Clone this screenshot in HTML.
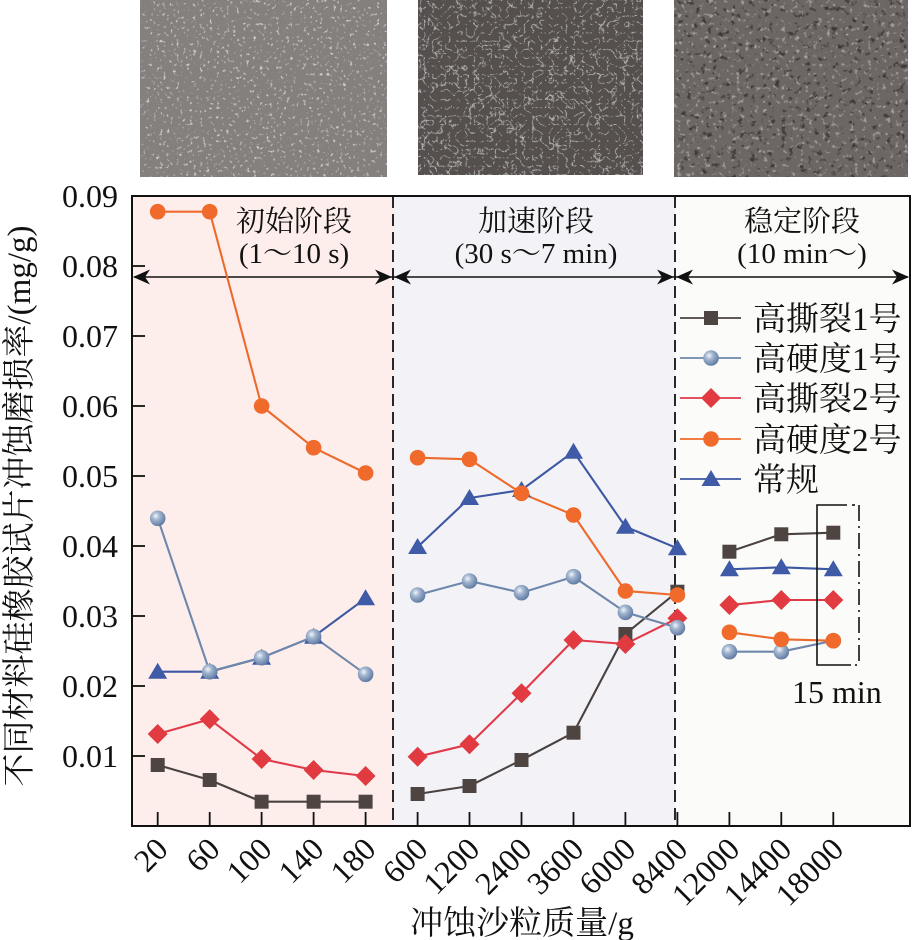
<!DOCTYPE html>
<html>
<head>
<meta charset="utf-8">
<style>
html,body{margin:0;padding:0;background:#fff;}
svg{display:block;}
</style>
</head>
<body>
<svg width="912" height="940" viewBox="0 0 912 940" xmlns="http://www.w3.org/2000/svg" font-family="'Liberation Serif','Noto Serif CJK SC',serif">
<defs>
  <radialGradient id="sg" cx="0.38" cy="0.35" r="0.7">
    <stop offset="0" stop-color="#f2f5fa"/>
    <stop offset="0.35" stop-color="#a3b6d0"/>
    <stop offset="1" stop-color="#5a759e"/>
  </radialGradient>
  <filter id="f1" x="0" y="0" width="1" height="1" color-interpolation-filters="sRGB">
    <feTurbulence type="fractalNoise" baseFrequency="0.3" numOctaves="2" seed="4"/>
    <feColorMatrix type="matrix" values="0 0 0 0 1  0 0 0 0 1  0 0 0 0 1  6 0 0 0 -3.7"/>
  </filter>
  <filter id="f2" x="0" y="0" width="1" height="1" color-interpolation-filters="sRGB">
    <feTurbulence type="turbulence" baseFrequency="0.12" numOctaves="3" seed="7"/>
    <feColorMatrix type="matrix" values="0 0 0 0 1  0 0 0 0 1  0 0 0 0 1  -5 0 0 0 0.9"/>
  </filter>
  <filter id="f3a" x="0" y="0" width="1" height="1" color-interpolation-filters="sRGB">
    <feTurbulence type="fractalNoise" baseFrequency="0.16" numOctaves="3" seed="11"/>
    <feColorMatrix type="matrix" values="0 0 0 0 0.2  0 0 0 0 0.18  0 0 0 0 0.17  -6 0 0 0 2.35"/>
  </filter>
  <filter id="f3b" x="0" y="0" width="1" height="1" color-interpolation-filters="sRGB">
    <feTurbulence type="fractalNoise" baseFrequency="0.22" numOctaves="2" seed="23"/>
    <feColorMatrix type="matrix" values="0 0 0 0 0.85  0 0 0 0 0.83  0 0 0 0 0.82  6 0 0 0 -3.7"/>
  </filter>
  <g id="sq"><rect x="-7" y="-7" width="14" height="14" fill="#4e4542"/></g>
  <g id="sp"><circle r="7.8" fill="url(#sg)"/></g>
  <g id="di"><path d="M0,-10 L10,0 L0,10 L-10,0Z" fill="#e13a41"/></g>
  <g id="oc"><circle r="7.8" fill="#ef6a2b"/></g>
  <g id="tr"><path d="M0,-9 L9.5,7 L-9.5,7Z" fill="#3f5aa6"/></g>
  <path id="ah" d="M0,0 L17,-7.5 L12,0 L17,7.5Z" fill="#111"/>
</defs>

<!-- SEM photos -->
<rect x="140" y="0" width="247" height="177" fill="#84807e"/>
<rect x="140" y="0" width="247" height="177" filter="url(#f1)" opacity="0.6"/>
<rect x="418" y="0" width="225" height="175" fill="#55504e"/>
<rect x="418" y="0" width="225" height="175" filter="url(#f2)" opacity="0.85"/>
<rect x="674" y="0" width="234" height="177" fill="#6c6664"/>
<rect x="674" y="0" width="234" height="177" filter="url(#f3a)" opacity="0.8"/>
<rect x="674" y="0" width="234" height="177" filter="url(#f3b)" opacity="0.5"/>

<!-- plot backgrounds -->
<rect x="132" y="196" width="261" height="630" fill="#fdeeec"/>
<rect x="393" y="196" width="282" height="630" fill="#f3f3f7"/>
<rect x="675" y="196" width="235" height="630" fill="#fbfbf9"/>

<!-- dashed separators -->
<line x1="393" y1="196" x2="393" y2="826" stroke="#111" stroke-width="1.8" stroke-dasharray="12,6"/>
<line x1="675" y1="196" x2="675" y2="826" stroke="#111" stroke-width="1.8" stroke-dasharray="12,6"/>

<!-- frame -->
<rect x="132" y="196" width="778" height="630" fill="none" stroke="#111" stroke-width="2"/>

<!-- y ticks -->
<g stroke="#111" stroke-width="1.8">
  <line x1="132" y1="266" x2="145" y2="266"/>
  <line x1="132" y1="336" x2="145" y2="336"/>
  <line x1="132" y1="406" x2="145" y2="406"/>
  <line x1="132" y1="476" x2="145" y2="476"/>
  <line x1="132" y1="546" x2="145" y2="546"/>
  <line x1="132" y1="616" x2="145" y2="616"/>
  <line x1="132" y1="686" x2="145" y2="686"/>
  <line x1="132" y1="756" x2="145" y2="756"/>
</g>
<!-- x ticks -->
<g stroke="#111" stroke-width="1.8">
  <line x1="157.7" y1="826" x2="157.7" y2="812"/>
  <line x1="209.7" y1="826" x2="209.7" y2="812"/>
  <line x1="261.6" y1="826" x2="261.6" y2="812"/>
  <line x1="313.6" y1="826" x2="313.6" y2="812"/>
  <line x1="365.6" y1="826" x2="365.6" y2="812"/>
  <line x1="417.6" y1="826" x2="417.6" y2="812"/>
  <line x1="469.5" y1="826" x2="469.5" y2="812"/>
  <line x1="521.5" y1="826" x2="521.5" y2="812"/>
  <line x1="573.5" y1="826" x2="573.5" y2="812"/>
  <line x1="625.4" y1="826" x2="625.4" y2="812"/>
  <line x1="677.4" y1="826" x2="677.4" y2="812"/>
  <line x1="729.4" y1="826" x2="729.4" y2="812"/>
  <line x1="781.3" y1="826" x2="781.3" y2="812"/>
  <line x1="833.3" y1="826" x2="833.3" y2="812"/>
</g>

<!-- y tick labels -->
<g font-size="32" fill="#111" text-anchor="end">
  <text x="118" y="207">0.09</text>
  <text x="118" y="277">0.08</text>
  <text x="118" y="347">0.07</text>
  <text x="118" y="417">0.06</text>
  <text x="118" y="487">0.05</text>
  <text x="118" y="557">0.04</text>
  <text x="118" y="627">0.03</text>
  <text x="118" y="697">0.02</text>
  <text x="118" y="767">0.01</text>
</g>

<!-- x tick labels -->
<g font-size="32" fill="#111" text-anchor="end">
  <text transform="translate(169.7,851) rotate(-45)">20</text>
  <text transform="translate(221.7,851) rotate(-45)">60</text>
  <text transform="translate(273.6,851) rotate(-45)">100</text>
  <text transform="translate(325.6,851) rotate(-45)">140</text>
  <text transform="translate(377.6,851) rotate(-45)">180</text>
  <text transform="translate(429.6,851) rotate(-45)">600</text>
  <text transform="translate(481.5,851) rotate(-45)">1200</text>
  <text transform="translate(533.5,851) rotate(-45)">2400</text>
  <text transform="translate(585.5,851) rotate(-45)">3600</text>
  <text transform="translate(637.4,851) rotate(-45)">6000</text>
  <text transform="translate(689.4,851) rotate(-45)">8400</text>
  <text transform="translate(741.4,851) rotate(-45)">12000</text>
  <text transform="translate(793.3,851) rotate(-45)">14400</text>
  <text transform="translate(845.3,851) rotate(-45)">18000</text>
</g>

<!-- axis labels -->
<text x="522" y="934" font-size="33" fill="#111" text-anchor="middle">冲蚀沙粒质量/g</text>
<text transform="translate(30,506) rotate(-90)" font-size="33" fill="#111" text-anchor="middle">不同材料硅橡胶试片冲蚀磨损率/(mg/g)</text>

<!-- stage arrows -->
<line x1="134" y1="277" x2="908" y2="277" stroke="#111" stroke-width="1.6"/>
<use href="#ah" transform="translate(133,277)"/>
<use href="#ah" transform="translate(392,277) scale(-1,1)"/>
<use href="#ah" transform="translate(394,277)"/>
<use href="#ah" transform="translate(674,277) scale(-1,1)"/>
<use href="#ah" transform="translate(676,277)"/>
<use href="#ah" transform="translate(909,277) scale(-1,1)"/>

<!-- stage labels -->
<g font-size="29" fill="#111" text-anchor="middle">
  <text x="294" y="231">初始阶段</text>
  <text x="294" y="263">(1～10 s)</text>
  <text x="536" y="231">加速阶段</text>
  <text x="536" y="263">(30 s～7 min)</text>
  <text x="802" y="231">稳定阶段</text>
  <text x="802" y="263">(10 min～)</text>
</g>

<!-- series lines -->
<g fill="none" stroke-width="2.1" stroke-linejoin="round">
  <g stroke="#3d57a3">
    <polyline points="157.7,671.7 209.7,671.7 261.6,657.7 313.6,636.7 365.6,598.3"/>
    <polyline points="417.6,547 469.5,498 521.5,490 573.5,451.7 625.4,526.7 677.4,548.3"/>
    <polyline points="729.4,569.3 781.3,567.3 833.3,569.3"/>
  </g>
  <g stroke="#4a4240">
    <polyline points="157.7,765 209.7,780 261.6,801.7 313.6,801.7 365.6,801.7"/>
    <polyline points="417.6,794 469.5,786 521.5,760 573.5,732.7 625.4,634 677.4,591.7"/>
    <polyline points="729.4,551.7 781.3,534.3 833.3,532.7"/>
  </g>
  <g stroke="#e0394a">
    <polyline points="157.7,734 209.7,719.3 261.6,759 313.6,770 365.6,776"/>
    <polyline points="417.6,756.7 469.5,744.3 521.5,693.3 573.5,640 625.4,644 677.4,618.3"/>
    <polyline points="729.4,605 781.3,600 833.3,600"/>
  </g>
  <g stroke="#6e87ab">
    <polyline points="157.7,518.3 209.7,671.7 261.6,657.7 313.6,636.7 365.6,674.3"/>
    <polyline points="417.6,595 469.5,581 521.5,592.7 573.5,576.7 625.4,612.3 677.4,627.7"/>
    <polyline points="729.4,651.7 781.3,651.7 833.3,640.7"/>
  </g>
  <g stroke="#ee6a2c">
    <polyline points="157.7,211.7 209.7,211.7 261.6,406 313.6,447.7 365.6,473"/>
    <polyline points="417.6,457.7 469.5,459.3 521.5,493.3 573.5,515 625.4,591 677.4,595"/>
    <polyline points="729.4,632.3 781.3,639.3 833.3,640.7"/>
  </g>
</g>

<!-- markers: triangle -->
<use href="#tr" x="157.7" y="671.7"/><use href="#tr" x="209.7" y="671.7"/><use href="#tr" x="261.6" y="657.7"/><use href="#tr" x="313.6" y="636.7"/><use href="#tr" x="365.6" y="598.3"/>
<use href="#tr" x="417.6" y="547"/><use href="#tr" x="469.5" y="498"/><use href="#tr" x="521.5" y="490"/><use href="#tr" x="573.5" y="451.7"/><use href="#tr" x="625.4" y="526.7"/><use href="#tr" x="677.4" y="548.3"/>
<use href="#tr" x="729.4" y="569.3"/><use href="#tr" x="781.3" y="567.3"/><use href="#tr" x="833.3" y="569.3"/>
<!-- square -->
<use href="#sq" x="157.7" y="765"/><use href="#sq" x="209.7" y="780"/><use href="#sq" x="261.6" y="801.7"/><use href="#sq" x="313.6" y="801.7"/><use href="#sq" x="365.6" y="801.7"/>
<use href="#sq" x="417.6" y="794"/><use href="#sq" x="469.5" y="786"/><use href="#sq" x="521.5" y="760"/><use href="#sq" x="573.5" y="732.7"/><use href="#sq" x="625.4" y="634"/><use href="#sq" x="677.4" y="591.7"/>
<use href="#sq" x="729.4" y="551.7"/><use href="#sq" x="781.3" y="534.3"/><use href="#sq" x="833.3" y="532.7"/>
<!-- diamond -->
<use href="#di" x="157.7" y="734"/><use href="#di" x="209.7" y="719.3"/><use href="#di" x="261.6" y="759"/><use href="#di" x="313.6" y="770"/><use href="#di" x="365.6" y="776"/>
<use href="#di" x="417.6" y="756.7"/><use href="#di" x="469.5" y="744.3"/><use href="#di" x="521.5" y="693.3"/><use href="#di" x="573.5" y="640"/><use href="#di" x="625.4" y="644"/><use href="#di" x="677.4" y="618.3"/>
<use href="#di" x="729.4" y="605"/><use href="#di" x="781.3" y="600"/><use href="#di" x="833.3" y="600"/>
<!-- sphere -->
<use href="#sp" x="157.7" y="518.3"/><use href="#sp" x="209.7" y="671.7"/><use href="#sp" x="261.6" y="657.7"/><use href="#sp" x="313.6" y="636.7"/><use href="#sp" x="365.6" y="674.3"/>
<use href="#sp" x="417.6" y="595"/><use href="#sp" x="469.5" y="581"/><use href="#sp" x="521.5" y="592.7"/><use href="#sp" x="573.5" y="576.7"/><use href="#sp" x="625.4" y="612.3"/><use href="#sp" x="677.4" y="627.7"/>
<use href="#sp" x="729.4" y="651.7"/><use href="#sp" x="781.3" y="651.7"/><use href="#sp" x="833.3" y="640.7"/>
<!-- orange circle -->
<use href="#oc" x="157.7" y="211.7"/><use href="#oc" x="209.7" y="211.7"/><use href="#oc" x="261.6" y="406"/><use href="#oc" x="313.6" y="447.7"/><use href="#oc" x="365.6" y="473"/>
<use href="#oc" x="417.6" y="457.7"/><use href="#oc" x="469.5" y="459.3"/><use href="#oc" x="521.5" y="493.3"/><use href="#oc" x="573.5" y="515"/><use href="#oc" x="625.4" y="591"/><use href="#oc" x="677.4" y="595"/>
<use href="#oc" x="729.4" y="632.3"/><use href="#oc" x="781.3" y="639.3"/><use href="#oc" x="833.3" y="640.7"/>

<!-- 15 min bracket -->
<path d="M847,505 H817 V665 H851" fill="none" stroke="#111" stroke-width="1.6"/>
<line x1="859" y1="505" x2="859" y2="665" stroke="#111" stroke-width="1.6" stroke-dasharray="16,5,2,5"/>
<line x1="852" y1="505" x2="855" y2="505" stroke="#111" stroke-width="1.6"/>
<line x1="855" y1="665" x2="857" y2="665" stroke="#111" stroke-width="1.6"/>
<text x="792" y="703" font-size="32" fill="#111">15 min</text>

<!-- legend -->
<g stroke-width="1.8">
  <line x1="680" y1="318" x2="741" y2="318" stroke="#4a4240"/>
  <line x1="680" y1="358" x2="741" y2="358" stroke="#6e87ab"/>
  <line x1="680" y1="398" x2="741" y2="398" stroke="#e0394a"/>
  <line x1="680" y1="439" x2="741" y2="439" stroke="#ee6a2c"/>
  <line x1="680" y1="479" x2="741" y2="479" stroke="#3d57a3"/>
</g>
<use href="#sq" x="711" y="318"/>
<use href="#sp" x="711" y="358"/>
<use href="#di" x="711" y="398"/>
<use href="#oc" x="711" y="439"/>
<use href="#tr" x="711" y="479"/>
<g font-size="33" fill="#111">
  <text x="753" y="330">高撕裂1号</text>
  <text x="753" y="370">高硬度1号</text>
  <text x="753" y="410">高撕裂2号</text>
  <text x="753" y="451">高硬度2号</text>
  <text x="753" y="491">常规</text>
</g>
</svg>
</body>
</html>
